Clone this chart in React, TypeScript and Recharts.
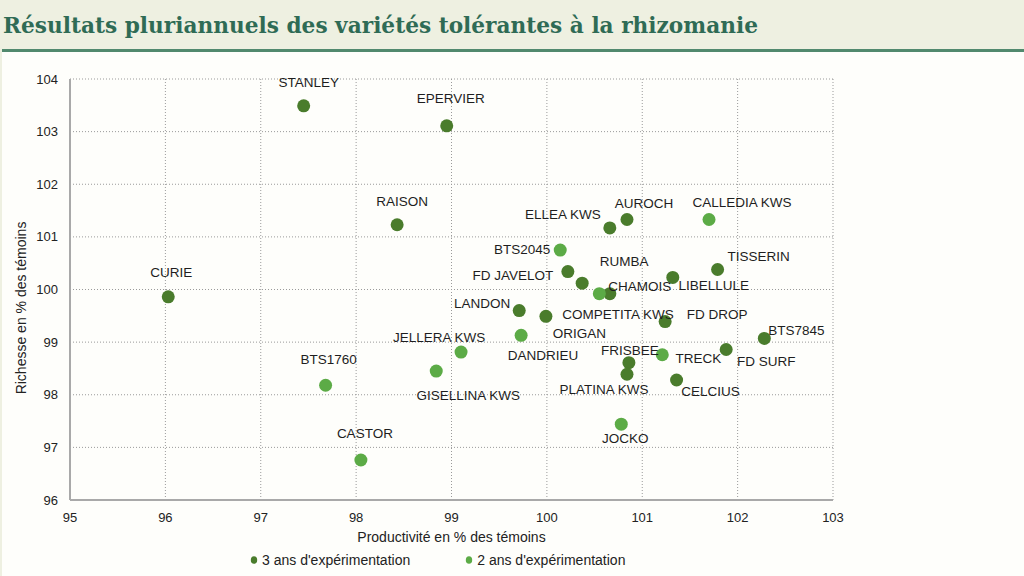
import React from 'react';
import { ScatterChart, Scatter, XAxis, YAxis, CartesianGrid, Legend, Label } from 'recharts';

const xTicks = [95, 96, 97, 98, 99, 100, 101, 102, 103];
const yTicks = [96, 97, 98, 99, 100, 101, 102, 103, 104];

const series3Name = "3 ans d'expérimentation";
const series3Labels = ['STANLEY', 'EPERVIER', 'RAISON', 'CURIE', 'ELLEA KWS', 'AUROCH', 'FD JAVELOT', 'RUMBA', 'CHAMOIS', 'LIBELLULE', 'TISSERIN', 'LANDON', 'COMPETITA KWS', 'FD DROP', 'BTS7845', 'FD SURF', 'FRISBEE', 'PLATINA KWS', 'CELCIUS'];
const series3X = [97.45, 98.95, 98.43, 96.03, 100.66, 100.84, 100.22, 100.37, 100.66, 101.32, 101.79, 99.71, 99.99, 101.24, 102.28, 101.88, 100.86, 100.84, 101.36];
const series3Y = [103.49, 103.11, 101.23, 99.86, 101.17, 101.33, 100.34, 100.12, 99.92, 100.23, 100.38, 99.6, 99.49, 99.39, 99.07, 98.86, 98.61, 98.39, 98.28];

const series2Name = "2 ans d'expérimentation";
const series2Labels = ['CALLEDIA KWS', 'BTS2045', 'ORIGAN', 'DANDRIEU', 'TRECK', 'JELLERA KWS', 'GISELLINA KWS', 'BTS1760', 'CASTOR', 'JOCKO'];
const series2X = [101.7, 100.14, 100.55, 99.73, 101.21, 99.1, 98.84, 97.68, 98.05, 100.78];
const series2Y = [101.33, 100.75, 99.92, 99.13, 98.76, 98.81, 98.45, 98.18, 96.76, 97.44];

const legendOrder = [series3Name, series2Name];

// label placement (pixel offset of the label centre from its point)
const labelOffsets: Record<string, [number, number]> = {
  STANLEY: [5, -23], EPERVIER: [4, -27], RAISON: [5, -23], CURIE: [3, -24],
  'ELLEA KWS': [-47, -13], AUROCH: [17, -16], 'FD JAVELOT': [-55, 4], RUMBA: [42, -22],
  CHAMOIS: [30, -7], LIBELLULE: [41, 8], TISSERIN: [41, -13], LANDON: [-37, -7],
  'COMPETITA KWS': [72, -2], 'FD DROP': [52, -7], BTS7845: [32, -8], 'FD SURF': [40, 12],
  FRISBEE: [1, -12], 'PLATINA KWS': [-23, 15], CELCIUS: [34, 11],
  'CALLEDIA KWS': [33, -17], BTS2045: [-38, -1], ORIGAN: [-20, 40], DANDRIEU: [22, 20],
  TRECK: [36, 4], 'JELLERA KWS': [-22, -15], 'GISELLINA KWS': [32, 24], BTS1760: [3, -26],
  CASTOR: [4, -27], JOCKO: [4, 14],
};

const DARK = '#4a7c2c';
const LIGHT = '#5cab46';
const FONT = '"Liberation Sans", Arial, sans-serif';

const build = (labels: string[], xs: number[], ys: number[]) =>
  labels.map((name, i) => ({ name, x: xs[i], y: ys[i] }));

const data3 = build(series3Labels, series3X, series3Y);
const data2 = build(series2Labels, series2X, series2Y);
const allPoints = [...data3, ...data2];

const dotShape = (color: string) => (props: any) => (
  <circle cx={props.cx} cy={props.cy} r={6.5} fill={color} />
);

const labelShape = (props: any) => {
  const name = props.payload?.name ?? '';
  const off = labelOffsets[name] || [0, -20];
  return (
    <text
      x={props.cx + off[0]}
      y={props.cy + off[1]}
      textAnchor="middle"
      dominantBaseline="central"
      fontFamily={FONT}
      fontSize={13.5}
      fill="#1e1e1e"
    >
      {name}
    </text>
  );
};

const renderLegend = (props: any) => {
  const items = (props.payload || [])
    .filter((p: any) => legendOrder.includes(p.value))
    .sort((a: any, b: any) => legendOrder.indexOf(a.value) - legendOrder.indexOf(b.value));
  return (
    <div style={{ position: 'absolute', left: 250, top: 0, display: 'flex', gap: 55, whiteSpace: 'nowrap', fontFamily: FONT, fontSize: 14, color: '#222' }}>
      {items.map((it: any) => (
        <div key={it.value} style={{ display: 'flex', alignItems: 'center' }}>
          <svg width={8} height={10} style={{ marginRight: 4 }}>
            <ellipse cx={4} cy={5} rx={3.2} ry={3.8} fill={it.color} />
          </svg>
          <span style={{ lineHeight: '16px' }}>{it.value}</span>
        </div>
      ))}
    </div>
  );
};

export default function App() {
  return (
    <div style={{ position: 'fixed', left: 0, top: 0, width: 1024, height: 576, background: '#eef0e1', overflow: 'hidden', fontFamily: FONT }}>
      <svg width={1024} height={50} style={{ position: 'absolute', left: 0, top: 0 }}>
        <text x={3} y={33} fontFamily='"DejaVu Serif", serif' fontWeight={700} fontSize={22} fill="#2f6b55" textLength={755} lengthAdjust="spacingAndGlyphs">
          Résultats pluriannuels des variétés tolérantes à la rhizomanie
        </text>
      </svg>
      <div style={{ position: 'absolute', left: 2, top: 49, width: 1022, height: 3, background: '#51896e' }} />
      <div style={{ position: 'absolute', left: 2, top: 52, width: 1022, height: 524, background: '#fefefb' }} />
      <div style={{ position: 'absolute', left: 0, top: 0 }}>
        <ScatterChart width={1024} height={576} margin={{ top: 79, right: 191, bottom: 46, left: 10 }}>
          <CartesianGrid stroke="#9a9a9a" strokeDasharray="1 2" strokeWidth={1} />
          <XAxis
            type="number"
            dataKey="x"
            domain={[95, 103]}
            ticks={xTicks}
            interval={0}
            height={30}
            tickSize={0}
            tickMargin={13}
            axisLine={{ stroke: '#a9a9a9', strokeWidth: 2 }}
            tickLine={false}
            tick={{ fill: '#222', fontSize: 13, fontFamily: FONT }}
          >
            <Label
              content={(p: any) => {
                const vb = p.viewBox;
                return (
                  <text x={vb.x + vb.width / 2} y={vb.y + 37} textAnchor="middle" dominantBaseline="central" fontFamily={FONT} fontSize={14} fill="#222">
                    Productivité en % des témoins
                  </text>
                );
              }}
            />
          </XAxis>
          <YAxis
            type="number"
            dataKey="y"
            domain={[96, 104]}
            ticks={yTicks}
            interval={0}
            width={60}
            tickSize={0}
            tickMargin={12}
            axisLine={{ stroke: '#a9a9a9', strokeWidth: 2 }}
            tickLine={false}
            tick={{ fill: '#222', fontSize: 13, fontFamily: FONT }}
          >
            <Label
              content={(p: any) => {
                const vb = p.viewBox;
                const cx = vb.x + 10.7;
                const cy = vb.y + vb.height / 2 + 18.5;
                return (
                  <text x={cx} y={cy} transform={`rotate(-90, ${cx}, ${cy})`} textAnchor="middle" dominantBaseline="central" fontFamily={FONT} fontSize={14} fill="#222">
                    Richesse en % des témoins
                  </text>
                );
              }}
            />
          </YAxis>
          <Scatter name={series3Name} data={data3} fill={DARK} shape={dotShape(DARK)} isAnimationActive={false} />
          <Scatter name={series2Name} data={data2} fill={LIGHT} shape={dotShape(LIGHT)} isAnimationActive={false} />
          <Scatter name="labels" data={allPoints} legendType="none" shape={labelShape} isAnimationActive={false} />
          <Legend content={renderLegend} wrapperStyle={{ top: 552, left: 0, width: 1024, height: 0, bottom: 'auto' }} />
        </ScatterChart>
      </div>
    </div>
  );
}
